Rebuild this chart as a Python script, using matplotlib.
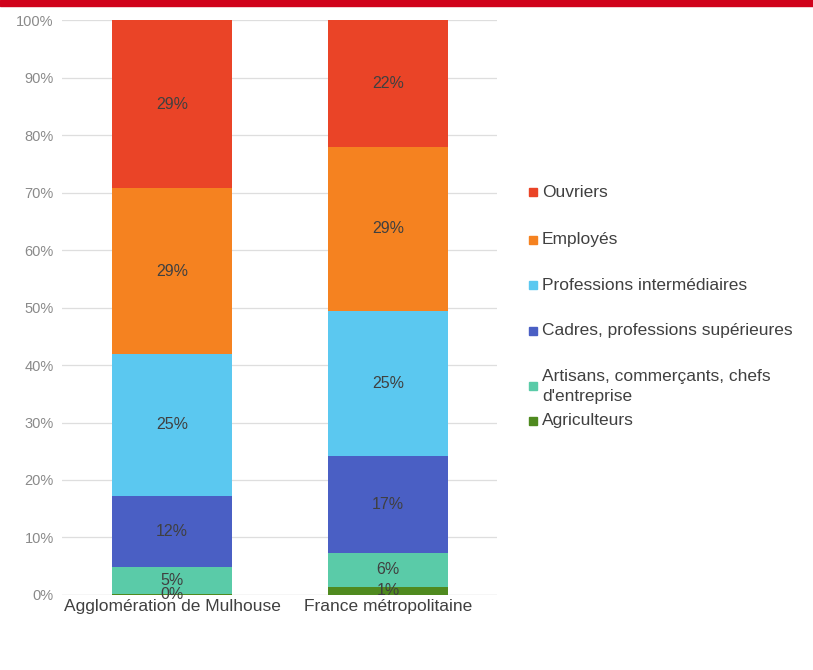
import numpy as np
import matplotlib.pyplot as plt
from matplotlib.patches import Rectangle

plt.rcParams['font.family'] = ['Liberation Sans', 'DejaVu Sans']

territoires = ["Agglomération de Mulhouse", "France métropolitaine"]
categories = ["Agriculteurs", "Artisans, commerçants, chefs\nd'entreprise",
              "Cadres, professions supérieures", "Professions intermédiaires",
              "Employés", "Ouvriers"]
mulhouse = [0.1, 4.8, 12.4, 24.6, 28.9, 29.2]
france = [1.4, 5.9, 16.9, 25.2, 28.6, 22.0]
couleurs = ["#4f8a1f", "#5acba8", "#4a5fc4", "#5bc8f0", "#f58220", "#ea4427"]

fig = plt.figure(figsize=(8.13, 6.70), dpi=100)
ax = fig.add_axes([0.0763, 0.112, 0.535, 0.858])

# bandeau rouge en haut
fig.patches.append(Rectangle((0, 0.991), 1, 0.009, transform=fig.transFigure,
                             color="#d0021b", zorder=5))

x = np.arange(len(territoires))
valeurs = np.array([mulhouse, france])
bas = np.zeros(len(territoires))
for i, cat in enumerate(categories):
    v = valeurs[:, i]
    ax.bar(x, v, 0.555, bottom=bas, color=couleurs[i], zorder=2)
    for xi, b, vi in zip(x, bas, v):
        ax.text(xi, b + vi / 2, f"{vi:.0f}%", ha="center", va="center",
                fontsize=11.5, color="#404040", zorder=3)
    bas += v

ax.set_xlim(-0.51, 1.505)
ax.set_ylim(0, 100)
ax.set_yticks(np.arange(0, 101, 10))
ax.set_yticklabels([f"{t}%" for t in range(0, 101, 10)], fontsize=10.5, color="#8a8a8a")
ax.set_xticks(x)
ax.set_xticklabels(territoires, fontsize=12.5, color="#404040")
ax.tick_params(length=0, pad=6)
ax.tick_params(axis="x", pad=3)
ax.grid(axis="y", color="#dedede", lw=0.9, zorder=0)
for s in ax.spines.values():
    s.set_visible(False)
ax.axhline(0, color="#d9d9d9", lw=0.9, zorder=1)

# légende
leg_y = [192, 240, 285, 331, 386, 421]
ordre = [5, 4, 3, 2, 1, 0]
for y, i in zip(leg_y, ordre):
    fy = 1 - y / 670
    fig.patches.append(Rectangle((529 / 813, fy - 4 / 670), 8 / 813, 8 / 670,
                                 transform=fig.transFigure, color=couleurs[i]))
    if "\n" in categories[i]:
        fig.text(542 / 813, 1 - 376 / 670, categories[i].split("\n")[0],
                 fontsize=12.5, color="#404040", va="center", ha="left")
        fig.text(542 / 813, 1 - 397 / 670, categories[i].split("\n")[1],
                 fontsize=12.5, color="#404040", va="center", ha="left")
    else:
        fig.text(542 / 813, fy, categories[i], fontsize=12.5, color="#404040",
                 va="center", ha="left")

fig.savefig("out.png", dpi=100)
